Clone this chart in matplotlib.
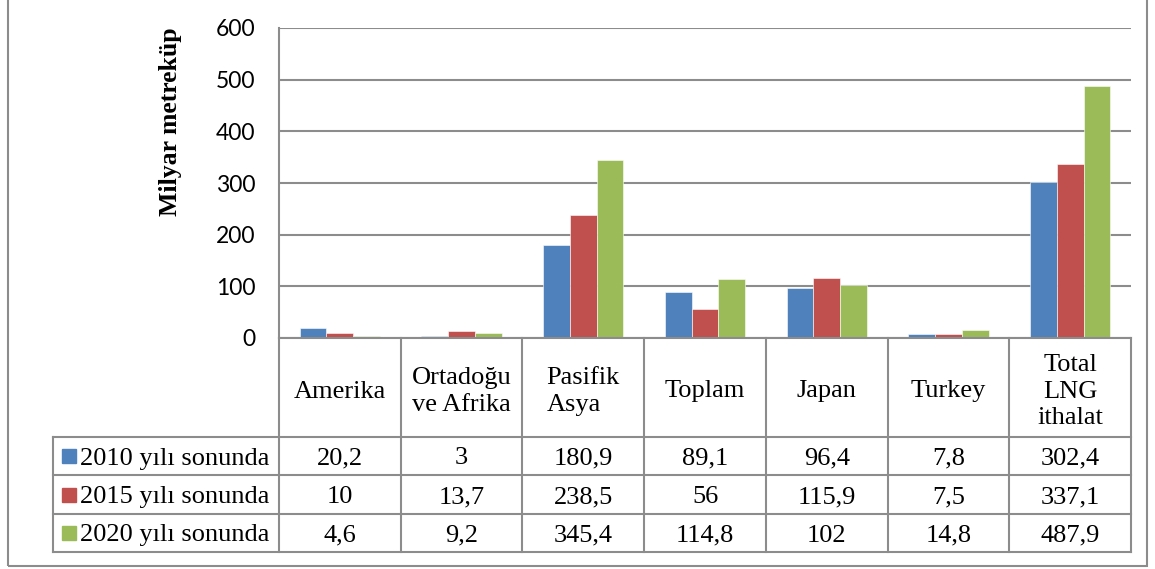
import numpy as np
import matplotlib.pyplot as plt
from matplotlib.patches import Rectangle

# data
categories = ['Amerika', 'Ortadoğu\nve Afrika', 'Pasifik\nAsya', 'Toplam',
              'Japan', 'Turkey', 'Total\nLNG\nithalat']
series = ['2010 yılı sonunda', '2015 yılı sonunda', '2020 yılı sonunda']
v2010 = [20.2, 3, 180.9, 89.1, 96.4, 7.8, 302.4]
v2015 = [10, 13.7, 238.5, 56, 115.9, 7.5, 337.1]
v2020 = [4.6, 9.2, 345.4, 114.8, 102, 14.8, 487.9]
labels2010 = ['20,2', '3', '180,9', '89,1', '96,4', '7,8', '302,4']
labels2015 = ['10', '13,7', '238,5', '56', '115,9', '7,5', '337,1']
labels2020 = ['4,6', '9,2', '345,4', '114,8', '102', '14,8', '487,9']
colors = ['#4F81BD', '#C0504D', '#9BBB59']
yticks = [0, 100, 200, 300, 400, 500, 600]

W, H = 1155, 569
fig = plt.figure(figsize=(W / 100, H / 100), dpi=100)

def fx(px):
    return px / W

def fy(py):
    return 1 - py / H

serif = ['Liberation Serif', 'DejaVu Serif']
grid_c = '#8c8c8c'

# plot area
x0, x1, ytop, ybot = 279, 1131, 28, 338
ax = fig.add_axes([fx(x0), fy(ybot), fx(x1) - fx(x0), fy(ytop) - fy(ybot)])
n = len(categories)
x = np.arange(n) + 0.5
bw = 0.22
for k, vals in enumerate([v2010, v2015, v2020]):
    ax.bar(x + (k - 1) * bw, vals, bw, color=colors[k], edgecolor='white', linewidth=0.4, zorder=3)
ax.set_xlim(0, n)
ax.set_ylim(0, 600)
ax.set_yticks(yticks)
ax.set_yticklabels([str(t) for t in yticks], fontsize=16.5, family=['Lato', 'DejaVu Sans'])
ax.tick_params(axis='y', length=0, pad=17)
ax.set_xticks([])
ax.grid(axis='y', color=grid_c, linewidth=1.5, zorder=0)
for s in ['top', 'right', 'bottom']:
    ax.spines[s].set_visible(False)
ax.spines['left'].set_color(grid_c)
ax.spines['left'].set_linewidth(1.5)
fig.text(fx(170), fy(122), 'Milyar metreküp', family=serif, fontsize=18.5, fontweight='bold',
         rotation=90, ha='center', va='center')

# outer border
fig.patches.append(Rectangle((fx(8), fy(566)), fx(1147) - fx(8), fy(-5) - fy(566),
                             transform=fig.transFigure, fill=False, edgecolor='#8c8c8c', linewidth=1.5))

# data table
rows = [338, 437, 475, 514, 552]
cols = [x0 + i * (x1 - x0) / n for i in range(n + 1)]
legx = 53

def hline(y, xa, xb):
    fig.add_artist(plt.Line2D([fx(xa), fx(xb)], [fy(y), fy(y)], color=grid_c, linewidth=1.5))

def vline(xp, ya, yb):
    fig.add_artist(plt.Line2D([fx(xp), fx(xp)], [fy(ya), fy(yb)], color=grid_c, linewidth=1.5))

hline(rows[0], x0, x1)
for r in rows[1:]:
    hline(r, legx, x1)
for c in cols:
    vline(c, rows[0], rows[-1])
vline(legx, rows[1], rows[-1])

fs = 19
for i, cat in enumerate(categories):
    cx = (cols[i] + cols[i + 1]) / 2
    cy = (rows[0] + rows[1]) / 2 + 4
    ma = 'left' if i in (1, 2) else 'center'
    fig.text(fx(cx), fy(cy), cat, ha='center', va='center', fontsize=fs,
             family=serif, multialignment=ma, linespacing=1.27)

for j, (name, labs) in enumerate(zip(series, [labels2010, labels2015, labels2020])):
    cy = (rows[j + 1] + rows[j + 2]) / 2
    fig.patches.append(Rectangle((fx(62), fy(cy + 7)), fx(14), 14 / H,
                                 transform=fig.transFigure, color=colors[j]))
    fig.text(fx(80), fy(cy), name, ha='left', va='center_baseline', fontsize=fs, family=serif)
    for i, lab in enumerate(labs):
        cx = (cols[i] + cols[i + 1]) / 2
        fig.text(fx(cx), fy(cy), lab, ha='center', va='center_baseline', fontsize=fs, family=serif)

fig.savefig('out.png', dpi=100)
